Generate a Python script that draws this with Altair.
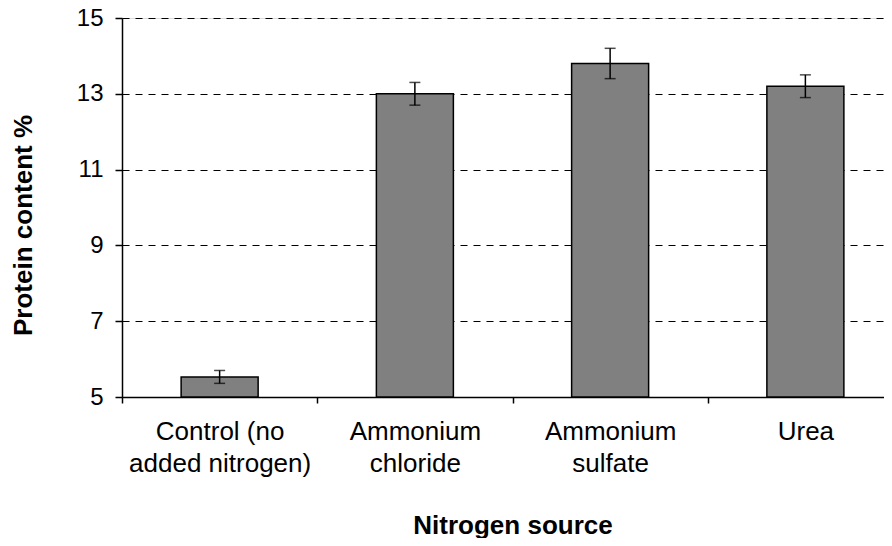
import json
import altair as alt
import pandas as pd

categories = ["Control (no added nitrogen)", "Ammonium chloride", "Ammonium sulfate", "Urea"]
label_lines = [["Control (no", "added nitrogen)"], ["Ammonium", "chloride"], ["Ammonium", "sulfate"], ["Urea"]]
protein = [5.53, 13.0, 13.8, 13.2]
err = [0.17, 0.3, 0.4, 0.3]
y_ticks = [5, 7, 9, 11, 13, 15]
y_min, y_max = 5, 15

df = pd.DataFrame({
    "source": categories,
    "protein": protein,
    "lo": [p - e for p, e in zip(protein, err)],
    "hi": [p + e for p, e in zip(protein, err)],
})

label_map = json.dumps({c: l for c, l in zip(categories, label_lines)})
FONT = "Liberation Sans"

x_enc = alt.X(
    "source:N",
    sort=categories,
    scale=alt.Scale(paddingInner=0, paddingOuter=0, rangeMax=781),
    axis=alt.Axis(
        title="Nitrogen source",
        labelExpr=f"{label_map}[datum.label]",
        labelAngle=0, labelOverlap=False, labelBound=False, labelLimit=400,
        labelFont=FONT, labelFontSize=26, labelColor="black",
        labelPadding=15, labelLineHeight=32, labelBaseline="top",
        tickBand="extent", ticks=True, tickSize=6, tickColor="black", tickWidth=1.5,
        domainColor="black", domainWidth=1.5,
        titleFont=FONT, titleFontSize=26, titleFontWeight="bold", titleColor="black",
        titleY=128, titleBaseline="middle",
        grid=False,
    ),
)

y_enc = alt.Y(
    "protein:Q",
    scale=alt.Scale(domain=[y_min, y_max], nice=False, zero=False),
    axis=alt.Axis(
        title="Protein content %",
        values=y_ticks,
        labelFont=FONT, labelFontSize=24, labelColor="black", labelPadding=12,
        tickSize=7, tickColor="black", tickWidth=1.5,
        domainColor="black", domainWidth=1.5,
        grid=True, gridColor="black", gridDash=[7, 6], gridWidth=1.2, gridOpacity=1,
        titleFont=FONT, titleFontSize=26, titleFontWeight="bold", titleColor="black",
        titleAngle=270, titleX=-99, titleY=207, titleAlign="center", titleBaseline="middle",
    ),
)

bars = alt.Chart(df).mark_bar(width=77, fill="#808080", stroke="black", strokeWidth=1.5).encode(
    x=x_enc, y=y_enc, y2=alt.Y2(datum=y_min)
)
rule = alt.Chart(df).mark_rule(color="black", strokeWidth=1.5).encode(
    x=alt.X("source:N", sort=categories), y="lo:Q", y2="hi:Q"
)
caps_hi = alt.Chart(df).mark_tick(color="black", thickness=1.5, size=11).encode(
    x=alt.X("source:N", sort=categories), y="hi:Q"
)
caps_lo = alt.Chart(df).mark_tick(color="black", thickness=1.5, size=11).encode(
    x=alt.X("source:N", sort=categories), y="lo:Q"
)

chart = alt.layer(bars, rule, caps_hi, caps_lo).properties(
    width=770, height=379,
    autosize=alt.AutoSizeParams(type="none"),
    padding={"left": 114, "top": 10, "right": -8, "bottom": 141},
).configure_view(stroke=None).configure(background="white")

chart.save("out.html", embed_options={"renderer": "svg", "actions": False})
